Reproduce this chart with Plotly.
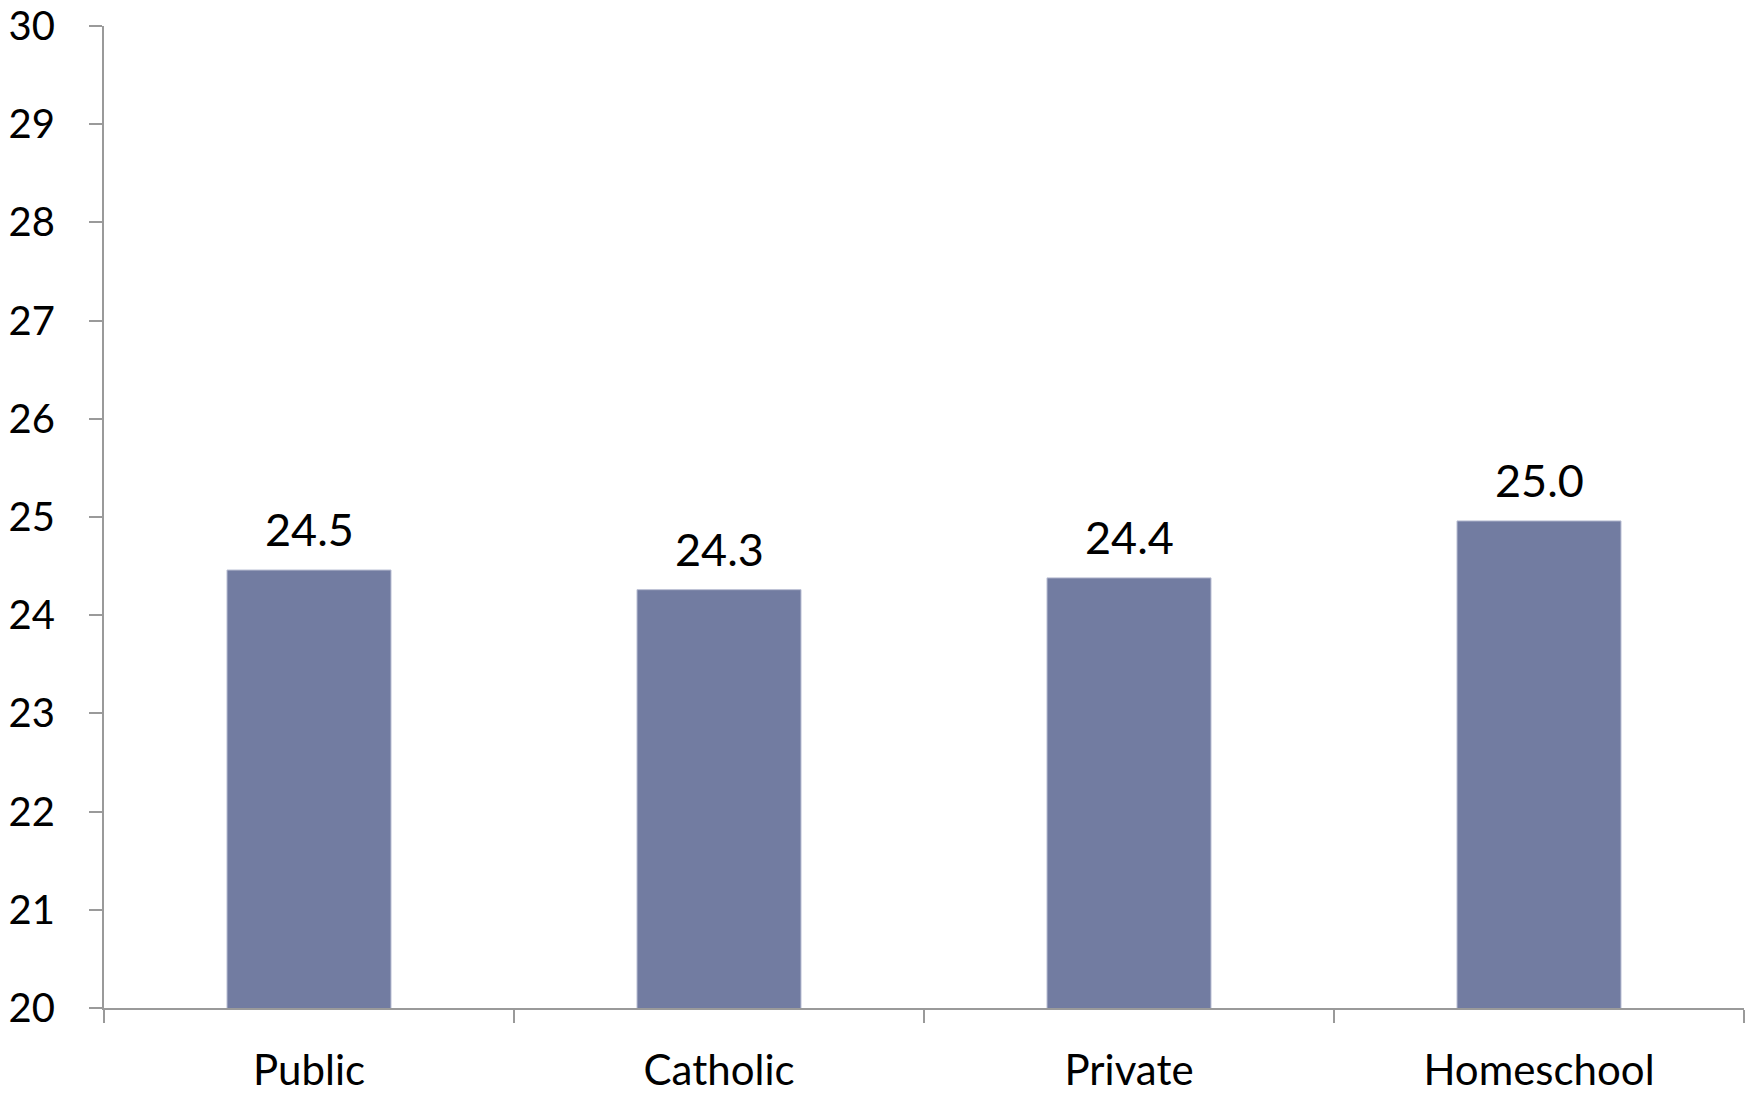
import plotly.graph_objects as go

categories = ["Public", "Catholic", "Private", "Homeschool"]
values = [24.46, 24.26, 24.38, 24.96]
y_ticks = [20, 21, 22, 23, 24, 25, 26, 27, 28, 29, 30]

BAR_COLOR = "#727CA1"
AXIS_COLOR = "#9A9A9A"
FONT = "Lato"

fig = go.Figure()
fig.add_trace(go.Bar(
    x=categories, y=values, width=0.4,
    marker=dict(color=BAR_COLOR, line=dict(color="#B9BED3", width=1)),
    hoverinfo="skip",
))

for c, v in zip(categories, values):
    fig.add_annotation(x=c, y=v, text=f"{v:.1f}", showarrow=False,
                       yanchor="bottom", yshift=12,
                       font=dict(family=FONT, size=45, color="#000000"))

fig.update_layout(
    width=1747, height=1087,
    margin=dict(l=96, r=11, t=18, b=87),
    paper_bgcolor="white", plot_bgcolor="white",
    showlegend=False,
    font=dict(family=FONT, color="#000000"),
    bargap=0.6,
)
fig.update_xaxes(
    automargin=False, ticklabeloverflow="allow",
    showgrid=False, showline=True, linecolor=AXIS_COLOR, linewidth=2,
    ticks="outside", tickson="boundaries", ticklen=13, tickwidth=2, tickcolor=AXIS_COLOR,
    tickfont=dict(family=FONT, size=42, color="#000000"),
    ticklabelstandoff=25,
)
fig.update_yaxes(
    automargin=False, ticklabeloverflow="allow",
    range=[20, 30], tickvals=y_ticks, showgrid=False, zeroline=False,
    showline=True, linecolor=AXIS_COLOR, linewidth=2,
    ticks="outside", ticklen=13, tickwidth=2, tickcolor=AXIS_COLOR,
    tickfont=dict(family=FONT, size=40, color="#000000"),
    ticklabelstandoff=26,
)

fig.write_html("out.html")
